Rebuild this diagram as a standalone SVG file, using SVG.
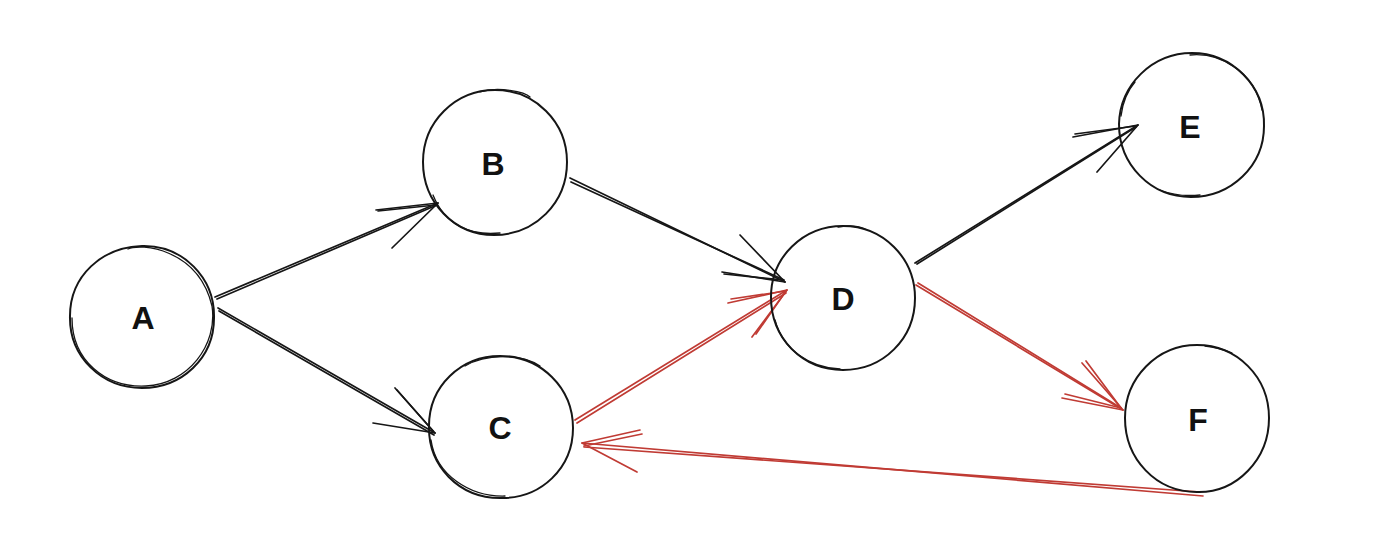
<svg xmlns="http://www.w3.org/2000/svg" width="1380" height="550" viewBox="0 0 1380 550">
<style>
.bg{fill:#ffffff}
.ring{fill:none;stroke:#161616;stroke-width:2;stroke-linecap:round}
.ring2{fill:none;stroke:#161616;stroke-width:1.3;stroke-linecap:round}
.lbl{font-family:"Liberation Sans",Arial,sans-serif;font-size:32px;font-weight:bold;fill:#111;text-anchor:middle;dominant-baseline:central}
.blk{fill:none;stroke:#161616;stroke-width:1.7;stroke-linecap:round;stroke-linejoin:round}
.red{fill:none;stroke:#c03b34;stroke-width:1.7;stroke-linecap:round;stroke-linejoin:round}
</style>
<rect class="bg" x="0" y="0" width="1380" height="550"/>
<g id="connectors">
  <g id="e-AB">
    <path class="blk" d="M215 297 L438 203"/>
    <path class="blk" d="M217 299 L437 205"/>
    <path class="blk" d="M376 210 L438 203 L392 248"/>
    <path class="blk" d="M378 211 L436 205"/>
  </g>
  <g id="e-AC">
    <path class="blk" d="M218 308 L435 433"/>
    <path class="blk" d="M219 311 L434 435"/>
    <path class="blk" d="M373 423 L435 433 L395 388"/>
    <path class="blk" d="M397 390 L433 431"/>
  </g>
  <g id="e-BD">
    <path class="blk" d="M570 178 L785 282"/>
    <path class="blk" d="M571 182 L784 280"/>
    <path class="blk" d="M722 272 L785 282 L740 235"/>
    <path class="blk" d="M724 274 L783 280"/>
  </g>
  <g id="e-CD">
    <path class="red" d="M575 420 L787 290"/>
    <path class="red" d="M577 423 L786 293"/>
    <path class="red" d="M728 303 L787 290 L752 337"/>
    <path class="red" d="M731 299 L786 291 L756 334"/>
  </g>
  <g id="e-DE">
    <path class="blk" d="M915 263 L1138 125"/>
    <path class="blk" d="M917 264 L1136 127"/>
    <path class="blk" d="M1073 137 L1138 125 L1097 172"/>
    <path class="blk" d="M1075 134 L1136 126"/>
  </g>
  <g id="e-DF">
    <path class="red" d="M916 285 L1123 410"/>
    <path class="red" d="M918 283 L1121 408"/>
    <path class="red" d="M1062 398 L1123 410 L1082 363"/>
    <path class="red" d="M1065 394 L1121 408 L1086 361"/>
  </g>
  <g id="e-FC">
    <path class="red" d="M1203 496 L582 443"/>
    <path class="red" d="M1200 492 L584 447"/>
    <path class="red" d="M640 430 L582 443 L637 472"/>
    <path class="red" d="M642 434 L584 446"/>
  </g>
</g>
<g id="node-A">
  <path class="ring" d="M142 246 C183 245 215 278 214 318 C214 358 182 388 142 388 C102 388 69 357 70 316 C70 276 102 247 142 246 Z"/>
  <path class="ring2" d="M128 249 C140 243 198 248 212 306 C218 345 188 384 146 386 C105 388 72 360 72 318"/>
  <text class="lbl" x="143" y="318">A</text>
</g>
<g id="node-B">
  <path class="ring" d="M495 90 C535 90 567 122 567 162 C567 203 535 235 494 235 C454 235 423 202 423 162 C423 122 455 90 495 90 Z"/>
  <path class="ring2" d="M480 92 C498 86 525 92 530 97 M433 195 C445 225 470 236 500 233"/>
  <text class="lbl" x="493" y="164">B</text>
</g>
<g id="node-C">
  <path class="ring" d="M500 356 C541 356 573 388 573 428 C573 468 541 499 500 498 C459 498 428 466 429 426 C429 386 461 356 500 356 Z"/>
  <path class="ring2" d="M465 366 C485 354 520 353 540 366 M431 440 C436 475 470 497 505 496"/>
  <text class="lbl" x="500" y="428">C</text>
</g>
<g id="node-D">
  <path class="ring" d="M843 226 C883 226 915 258 915 298 C915 339 883 370 843 370 C802 370 771 338 771 297 C771 257 803 226 843 226 Z"/>
  <path class="ring2" d="M838 227 C850 225 858 226 865 229 M775 320 C783 350 810 368 840 369"/>
  <text class="lbl" x="843" y="299">D</text>
</g>
<g id="node-E">
  <path class="ring" d="M1192 53 C1232 53 1265 86 1264 126 C1264 166 1231 197 1191 197 C1151 197 1119 165 1119 124 C1120 85 1152 53 1192 53 Z"/>
  <path class="ring2" d="M1190 55 C1220 52 1255 72 1262 110 M1121 116 C1123 100 1128 90 1135 82 M1160 190 C1175 196 1190 196 1200 195"/>
  <text class="lbl" x="1190" y="127">E</text>
</g>
<g id="node-F">
  <path class="ring" d="M1197 345 C1237 345 1269 377 1269 418 C1269 459 1237 493 1197 492 C1156 492 1125 459 1125 418 C1125 378 1157 345 1197 345 Z"/>
  <path class="ring2" d="M1205 346 C1215 347 1225 350 1232 353"/>
  <text class="lbl" x="1198" y="420">F</text>
</g>
</svg>
